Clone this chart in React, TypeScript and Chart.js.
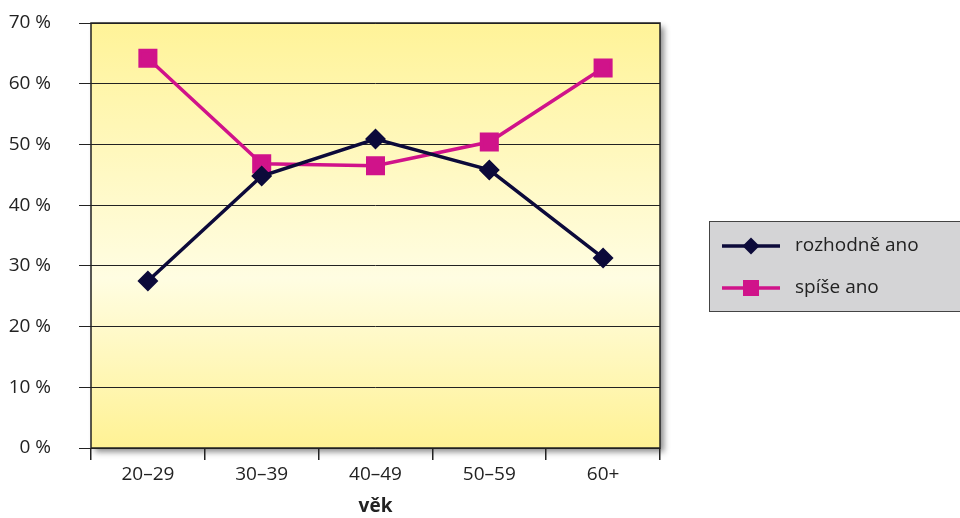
import React, { useEffect, useRef } from "react";
import { Chart, registerables } from "chart.js";
Chart.register(...registerables);

const categories = ["20–29", "30–39", "40–49", "50–59", "60+"];
const rozhodneAno = [27.5, 44.8, 50.9, 45.8, 31.3];
const spiseAno = [64.2, 46.8, 46.5, 50.4, 62.6];
const seriesNames = ["rozhodně ano", "spíše ano"];
const xTitle = "věk";

const FONT = "'Open Sans', 'Noto Sans', sans-serif";

const framePlugin = {
  id: "frame",
  beforeDraw(chart: any) {
    const { ctx, chartArea: a } = chart;
    ctx.save();
    ctx.shadowColor = "rgba(0,0,0,0.45)";
    ctx.shadowBlur = 6;
    ctx.shadowOffsetX = 4;
    ctx.shadowOffsetY = 4;
    ctx.fillStyle = "#fff";
    ctx.fillRect(a.left, a.top, a.right - a.left, a.bottom - a.top);
    ctx.restore();
    ctx.save();
    const g = ctx.createLinearGradient(0, a.top, 0, a.bottom);
    g.addColorStop(0, "#fff398");
    g.addColorStop(0.6, "#fffde2");
    g.addColorStop(1, "#fff294");
    ctx.fillStyle = g;
    ctx.fillRect(a.left, a.top, a.right - a.left, a.bottom - a.top);
    ctx.restore();
  },
  afterDraw(chart: any) {
    const { ctx, chartArea: a } = chart;
    ctx.save();
    ctx.strokeStyle = "#222";
    ctx.lineWidth = 1.5;
    ctx.strokeRect(a.left, a.top, a.right - a.left, a.bottom - a.top);
    ctx.restore();
    // legend
    const bx = 709.5, by = 221.5, bw = 252, bh = 90;
    ctx.save();
    ctx.fillStyle = "#d4d4d6";
    ctx.fillRect(bx, by, bw, bh);
    ctx.strokeStyle = "#444";
    ctx.lineWidth = 1;
    ctx.strokeRect(bx, by, bw, bh);
    const rows = [246, 288];
    chart.data.datasets.forEach((ds: any, i: number) => {
      const y = rows[i];
      ctx.strokeStyle = ds.borderColor;
      ctx.lineWidth = 3.5;
      ctx.beginPath();
      ctx.moveTo(722, y);
      ctx.lineTo(780, y);
      ctx.stroke();
      ctx.fillStyle = ds.borderColor;
      if (ds.pointStyle === "rectRot") {
        ctx.beginPath();
        ctx.moveTo(751, y - 8.5);
        ctx.lineTo(759.5, y);
        ctx.lineTo(751, y + 8.5);
        ctx.lineTo(742.5, y);
        ctx.closePath();
        ctx.fill();
      } else {
        ctx.fillRect(743, y - 8, 16, 16);
      }
      ctx.fillStyle = "#222";
      ctx.font = `19px ${FONT}`;
      ctx.textBaseline = "middle";
      ctx.textAlign = "left";
      ctx.fillText(ds.label, 795, y);
    });
    ctx.restore();
  },
};

export default function App() {
  const ref = useRef<HTMLCanvasElement>(null);
  useEffect(() => {
    document.body.style.margin = "0";
    const chart = new Chart(ref.current!, {
      type: "line",
      data: {
        labels: categories,
        datasets: [
          {
            label: seriesNames[0],
            data: rozhodneAno,
            borderColor: "#0c0a3a",
            backgroundColor: "#0c0a3a",
            borderWidth: 3.5,
            pointStyle: "rectRot",
            pointRadius: 8,
            pointHoverRadius: 8,
            tension: 0,
          },
          {
            label: seriesNames[1],
            data: spiseAno,
            borderColor: "#d0138a",
            backgroundColor: "#d0138a",
            borderWidth: 3.5,
            pointStyle: "rect",
            pointRadius: 11,
            pointHoverRadius: 11,
            tension: 0,
          },
        ],
      },
      options: {
        responsive: false,
        animation: false,
        layout: { padding: { top: 23, right: 300, left: 0, bottom: 0 } },
        plugins: { legend: { display: false }, tooltip: { enabled: false } },
        scales: {
          x: {
            offset: true,
            grid: {
              offset: true,
              drawOnChartArea: false,
              drawTicks: true,
              tickLength: 12,
              color: "#222",
              lineWidth: 1.5,
            },
            border: { display: false },
            ticks: { color: "#222", font: { family: FONT, size: 19 }, padding: 3 },
            title: {
              display: true,
              text: xTitle,
              color: "#222",
              font: { family: FONT, size: 19, weight: "bold" },
              padding: { top: 4, bottom: 0 },
            },
            afterFit: (s: any) => {
              s.height = 70;
              s.paddingLeft = 0;
              s.paddingRight = 0;
            },
          },
          y: {
            min: 0,
            max: 70,
            ticks: {
              stepSize: 10,
              color: "#222",
              font: { family: FONT, size: 19 },
              padding: 28,
              callback: (v: any) => `${v} %`,
            },
            grid: { color: "#222", lineWidth: 1, tickLength: 12 },
            border: { display: false },
            afterFit: (s: any) => {
              s.width = 91;
              s.paddingTop = 0;
              s.paddingBottom = 0;
            },
          },
        },
      },
      plugins: [framePlugin],
    });
    return () => chart.destroy();
  }, []);
  return (
    <div style={{ position: "absolute", left: 0, top: 0, width: 960, height: 518 }}>
      <canvas ref={ref} width={960} height={518} />
    </div>
  );
}
